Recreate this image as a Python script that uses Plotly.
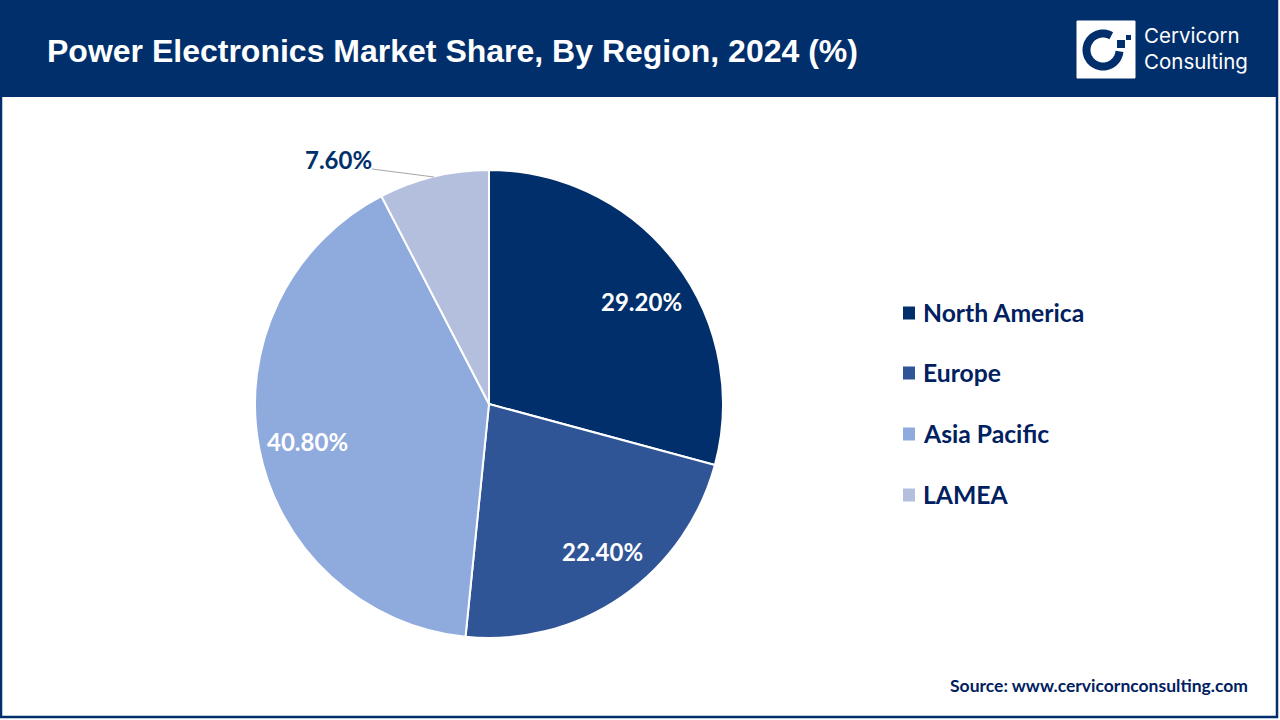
import math
import plotly.graph_objects as go

regions = ["North America", "Europe", "Asia Pacific", "LAMEA"]
shares = [29.2, 22.4, 40.8, 7.6]
colors = ["#002F6C", "#2F5597", "#8FAADC", "#B4BFDE"]
label_colors = ["white", "white", "white", "#002F6C"]

W = 1280
H = 720
NAVY = "#002F6C"
TEXT_NAVY = "#002060"

# pixel positions to paper coordinates
def px(x):
    return x / W

def py(y):
    return 1 - y / H

def rect(x0, y0, x1, y1, fill, line_color=None, line_width=0):
    return dict(type="rect", xref="paper", yref="paper", layer="above",
                x0=px(x0), y0=py(y0), x1=px(x1), y1=py(y1), fillcolor=fill,
                line=dict(color=line_color, width=line_width))

def note(x, y, text, size, color, font="Lato", anchor="center"):
    return dict(x=px(x), y=py(y), xref="paper", yref="paper", text=text, showarrow=False,
                xanchor=anchor, yanchor="middle",
                font=dict(family=font, size=size, color=color))

fig = go.Figure(go.Pie(labels=regions, values=shares, sort=False, direction="clockwise", rotation=0,
                       marker=dict(colors=colors, line=dict(color="white", width=2)),
                       textinfo="none", hoverinfo="label+percent", showlegend=False,
                       domain=dict(x=[px(489 - 234), px(489 + 234)], y=[py(404 + 234), py(404 - 234)])))

shapes = []
annotations = []

# header and frame
shapes.append(rect(0, 0, 1278, 97, NAVY))
shapes.append(rect(1, 1, 1277, 717, "rgba(0,0,0,0)", NAVY, 2.5))
annotations.append(note(45, 51, "<b>Power Electronics Market Share, By Region, 2024 (%)</b>", 32, "white",
                        font="Liberation Sans", anchor="left"))

# logo
shapes.append(rect(1077, 21, 1135, 78, "white", "white", 1))
ring = []
for a in range(5, 301, 5):
    t = math.radians(a)
    ring.append((1103 + 16.5 * math.cos(t), 50 + 16.5 * math.sin(t)))
ring_path = "M " + " L ".join("%.4f,%.4f" % (px(x), py(y)) for x, y in ring)
shapes.append(dict(type="path", xref="paper", yref="paper", layer="above", path=ring_path,
                   line=dict(color=NAVY, width=8)))
shapes.append(rect(1117, 40, 1125, 48, NAVY))
shapes.append(rect(1126, 35, 1131, 40, NAVY))
annotations.append(note(1142, 35, "Cervicorn", 20.5, "white", font="Inter", anchor="left"))
annotations.append(note(1142, 61, "Consulting", 20.5, "white", font="Inter", anchor="left"))

# slice labels
label_pos = [(641, 301), (602, 551), (307, 441), (338, 159)]
for val, col, (x, y) in zip(shares, label_colors, label_pos):
    annotations.append(note(x, y, "<b>%.2f%%</b>" % val, 24, col))

# leader line for the small slice
shapes.append(dict(type="line", xref="paper", yref="paper", layer="above",
                   x0=px(372), y0=py(169), x1=px(434), y1=py(177),
                   line=dict(color="#A6A6A6", width=1)))

# legend
legend_y = [313, 373, 434, 495]
for name, col, y in zip(regions, colors, legend_y):
    shapes.append(rect(903, y - 6.5, 915, y + 6.5, col))
    annotations.append(note(921, y - 1, "<b>%s</b>" % name, 24.7, TEXT_NAVY, anchor="left"))

annotations.append(note(1250, 685, "<b>Source: www.cervicornconsulting.com</b>", 17.5, TEXT_NAVY, anchor="right"))

fig.update_layout(width=W, height=H, margin=dict(l=0, r=0, t=0, b=0), paper_bgcolor="white",
                  shapes=shapes, annotations=annotations)

fig.write_html("out.html", config=dict(displayModeBar=False), post_script="document.body.style.margin='0';")
